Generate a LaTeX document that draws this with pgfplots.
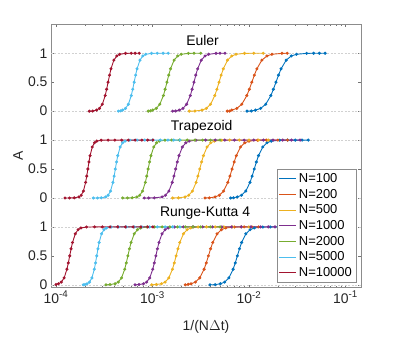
\documentclass[border=0pt]{standalone}
\usepackage{fontspec}
\setmainfont{Liberation Sans}
\usepackage{pgfplots}
\pgfplotsset{compat=1.18}
\usetikzlibrary{calc}

\definecolor{c1}{rgb}{0,0.447,0.741}
\definecolor{c2}{rgb}{0.850,0.325,0.098}
\definecolor{c3}{rgb}{0.929,0.694,0.125}
\definecolor{c4}{rgb}{0.494,0.184,0.556}
\definecolor{c5}{rgb}{0.466,0.674,0.188}
\definecolor{c6}{rgb}{0.301,0.745,0.933}
\definecolor{c7}{rgb}{0.635,0.078,0.184}

% u = log10 of 1/(N dt), A = amplitude (panels stacked: RK4 +0, Trapezoid +1.5, Euler +3)
\pgfplotsset{
  dat/.style={line width=0.9pt, mark=*, mark size=1.05pt},
  ref/.style={black!18, line width=0.4pt, dash pattern=on 2bp off 1.5bp, forget plot},
  table/lg/.style={x expr=10^\thisrow{u}, y=A, row sep=\\},
}

\begin{document}
\begin{tikzpicture}[font=\fontsize{14}{17}\selectfont]
\begin{axis}[
  scale only axis,
  width=310bp, height=263.4bp,
  xmode=log,
  xmin=8.87e-5, xmax=0.145,
  ymin=-0.05, ymax=4.5,
  xtick={1e-4,1e-3,1e-2,1e-1},
  xticklabels={10\textsuperscript{-4},10\textsuperscript{-3},10\textsuperscript{-2},10\textsuperscript{-1}},
  ytick={0,0.5,1,1.5,2,2.5,3,3.5,4},
  yticklabels={0,0.5,1,0,0.5,1,0,0.5,1},
  tick align=inside,
  major tick length=3.1bp,
  minor tick length=1.8bp,
  tick style={black!55, line width=0.4pt},
  axis line style={black!45, line width=0.5pt},
  tick label style={black!85, font=\fontsize{14}{17}\selectfont},
  xlabel={1/(N$\Delta$t)},
  ylabel={A},
  label style={black!85, font=\fontsize{14}{17}\selectfont},
  xlabel style={at={(axis description cs:0.5,-0.147)}, anchor=center},
  ylabel style={at={(axis description cs:-0.106,0.5)}, anchor=center},
  legend style={
    at={(axis description cs:0.984,0.0205)}, anchor=south east,
    draw=black!45, fill=white, font=\fontsize{13}{15}\selectfont,
    row sep=1.2bp, inner sep=2bp
  },
  legend cell align=left,
  legend image code/.code={\draw[#1, mark=none] (0bp,0bp) -- (17bp,0bp);},
]

\addplot[ref] coordinates {(8.87e-5,0) (0.145,0)};
\addplot[ref] coordinates {(8.87e-5,1) (0.145,1)};
\addplot[ref] coordinates {(8.87e-5,1.5) (0.145,1.5)};
\addplot[ref] coordinates {(8.87e-5,2.5) (0.145,2.5)};
\addplot[ref] coordinates {(8.87e-5,3) (0.145,3)};
\addplot[ref] coordinates {(8.87e-5,4) (0.145,4)};

% ---------- Euler ----------
\addplot[c1, dat] table[lg] {
u A\\
-2.02 3\\
-1.975 3.002\\
-1.932 3.018\\
-1.879 3.047\\
-1.826 3.119\\
-1.773 3.269\\
-1.7465 3.378\\
-1.72 3.5\\
-1.6935 3.622\\
-1.667 3.731\\
-1.614 3.881\\
-1.561 3.953\\
-1.508 3.982\\
-1.402 3.998\\
-1.33 4\\
-1.27 4\\
-1.21 4\\
};
\addlegendentry{N=100}
\addplot[c2, dat] table[lg] {
u A\\
-2.225 3\\
-2.2 3.001\\
-2.178 3.018\\
-2.126 3.047\\
-2.074 3.119\\
-2.022 3.269\\
-1.996 3.378\\
-1.97 3.5\\
-1.944 3.622\\
-1.918 3.731\\
-1.866 3.881\\
-1.814 3.953\\
-1.762 3.982\\
-1.658 3.998\\
-1.603 4\\
};
\addlegendentry{N=200}
\addplot[c3, dat] table[lg] {
u A\\
-2.619 3\\
-2.56 3.002\\
-2.486 3.018\\
-2.442 3.047\\
-2.398 3.119\\
-2.354 3.269\\
-2.332 3.378\\
-2.31 3.5\\
-2.288 3.622\\
-2.266 3.731\\
-2.222 3.881\\
-2.178 3.953\\
-2.134 3.982\\
-2.046 3.998\\
-1.95 4\\
-1.852 4\\
};
\addlegendentry{N=500}
\addplot[c4, dat] table[lg] {
u A\\
-2.791 3\\
-2.76 3.002\\
-2.722 3.018\\
-2.684 3.047\\
-2.646 3.119\\
-2.608 3.269\\
-2.589 3.378\\
-2.57 3.5\\
-2.551 3.622\\
-2.532 3.731\\
-2.494 3.881\\
-2.456 3.953\\
-2.418 3.982\\
-2.342 3.998\\
-2.30 4\\
-2.249 4\\
};
\addlegendentry{N=1000}
\addplot[c5, dat] table[lg] {
u A\\
-3.044 3\\
-3.02 3.005\\
-2.998 3.018\\
-2.961 3.047\\
-2.924 3.119\\
-2.887 3.269\\
-2.8685 3.378\\
-2.85 3.5\\
-2.8315 3.622\\
-2.813 3.731\\
-2.776 3.881\\
-2.739 3.953\\
-2.702 3.982\\
-2.628 3.998\\
-2.57 4\\
-2.5 4\\
};
\addlegendentry{N=2000}
\addplot[c6, dat] table[lg] {
u A\\
-3.354 3\\
-3.33 3.004\\
-3.31 3.018\\
-3.28 3.047\\
-3.25 3.119\\
-3.22 3.269\\
-3.205 3.378\\
-3.19 3.5\\
-3.175 3.622\\
-3.16 3.731\\
-3.13 3.881\\
-3.10 3.953\\
-3.07 3.982\\
-3.01 3.998\\
-2.95 4\\
-2.89 4\\
-2.836 4\\
};
\addlegendentry{N=5000}
\addplot[c7, dat] table[lg] {
u A\\
-3.655 3\\
-3.62 3.002\\
-3.58 3.018\\
-3.55 3.047\\
-3.52 3.119\\
-3.49 3.269\\
-3.475 3.378\\
-3.46 3.5\\
-3.445 3.622\\
-3.43 3.731\\
-3.40 3.881\\
-3.37 3.953\\
-3.34 3.982\\
-3.28 3.998\\
-3.22 4\\
-3.18 4\\
-3.137 4\\
};
\addlegendentry{N=10000}

% ---------- Trapezoid ----------
\addplot[c1, dat, forget plot] table[lg] {
u A\\
-2.19 1.5\\
-2.16 1.503\\
-2.121 1.518\\
-2.077 1.547\\
-2.033 1.619\\
-1.989 1.769\\
-1.967 1.878\\
-1.945 2.0\\
-1.923 2.122\\
-1.901 2.231\\
-1.857 2.381\\
-1.813 2.453\\
-1.769 2.482\\
-1.681 2.498\\
-1.6 2.5\\
-1.52 2.5\\
-1.45 2.5\\
-1.385 2.5\\
};
\addplot[c2, dat, forget plot] table[lg] {
u A\\
-2.456 1.5\\
-2.41 1.502\\
-2.351 1.518\\
-2.307 1.547\\
-2.263 1.619\\
-2.219 1.769\\
-2.197 1.878\\
-2.175 2.0\\
-2.153 2.122\\
-2.131 2.231\\
-2.087 2.381\\
-2.043 2.453\\
-1.999 2.482\\
-1.911 2.498\\
-1.82 2.5\\
-1.7 2.5\\
-1.6 2.5\\
};
\addplot[c3, dat, forget plot] table[lg] {
u A\\
-2.791 1.5\\
-2.73 1.502\\
-2.662 1.518\\
-2.624 1.547\\
-2.586 1.619\\
-2.548 1.769\\
-2.529 1.878\\
-2.51 2.0\\
-2.491 2.122\\
-2.472 2.231\\
-2.434 2.381\\
-2.396 2.453\\
-2.358 2.482\\
-2.282 2.498\\
-2.2 2.5\\
-2.1 2.5\\
-2.0 2.5\\
-1.9 2.5\\
-1.8 2.5\\
};
\addplot[c4, dat, forget plot] table[lg] {
u A\\
-3.085 1.5\\
-3.04 1.5\\
-2.98 1.502\\
-2.9 1.518\\
-2.865 1.547\\
-2.83 1.619\\
-2.795 1.769\\
-2.7775 1.878\\
-2.76 2.0\\
-2.7425 2.122\\
-2.725 2.231\\
-2.69 2.381\\
-2.655 2.453\\
-2.62 2.482\\
-2.55 2.498\\
-2.45 2.5\\
-2.35 2.5\\
-2.25 2.5\\
-2.15 2.5\\
-2.05 2.5\\
-1.95 2.5\\
-1.85 2.5\\
-1.75 2.5\\
-1.65 2.5\\
-1.56 2.5\\
-1.47 2.5\\
};
\addplot[c5, dat, forget plot] table[lg] {
u A\\
-3.309 1.5\\
-3.26 1.5\\
-3.21 1.503\\
-3.161 1.518\\
-3.132 1.547\\
-3.103 1.619\\
-3.074 1.769\\
-3.0595 1.878\\
-3.045 2.0\\
-3.0305 2.122\\
-3.016 2.231\\
-2.987 2.381\\
-2.958 2.453\\
-2.929 2.482\\
-2.871 2.498\\
-2.8 2.5\\
-2.72 2.5\\
-2.64 2.5\\
-2.56 2.5\\
-2.48 2.5\\
-2.4 2.5\\
-2.3 2.5\\
};
\addplot[c6, dat, forget plot] table[lg] {
u A\\
-3.613 1.5\\
-3.57 1.5\\
-3.53 1.503\\
-3.485 1.518\\
-3.46 1.547\\
-3.435 1.619\\
-3.41 1.769\\
-3.3975 1.878\\
-3.385 2.0\\
-3.3725 2.122\\
-3.36 2.231\\
-3.335 2.381\\
-3.31 2.453\\
-3.285 2.482\\
-3.235 2.498\\
-3.16 2.5\\
-3.08 2.5\\
-3.0 2.5\\
-2.92 2.5\\
-2.84 2.5\\
-2.78 2.5\\
-2.715 2.5\\
};
\addplot[c7, dat, forget plot] table[lg] {
u A\\
-3.907 1.5\\
-3.86 1.5\\
-3.81 1.503\\
-3.762 1.518\\
-3.739 1.547\\
-3.716 1.619\\
-3.693 1.769\\
-3.6815 1.878\\
-3.67 2.0\\
-3.6585 2.122\\
-3.647 2.231\\
-3.624 2.381\\
-3.601 2.453\\
-3.578 2.482\\
-3.532 2.498\\
-3.46 2.5\\
-3.39 2.5\\
-3.32 2.5\\
-3.25 2.5\\
-3.18 2.5\\
-3.11 2.5\\
-3.05 2.5\\
-2.995 2.5\\
};

% ---------- Runge-Kutta 4 ----------
\addplot[c1, dat, forget plot] table[lg] {
u A\\
-2.404 0\\
-2.35 0.003\\
-2.296 0.018\\
-2.252 0.047\\
-2.208 0.119\\
-2.164 0.269\\
-2.142 0.378\\
-2.12 0.5\\
-2.098 0.622\\
-2.076 0.731\\
-2.032 0.881\\
-1.988 0.953\\
-1.944 0.982\\
-1.856 0.998\\
-1.78 1\\
-1.70 1\\
};
\addplot[c2, dat, forget plot] table[lg] {
u A\\
-2.66 0\\
-2.63 0.008\\
-2.60 0.018\\
-2.555 0.047\\
-2.51 0.119\\
-2.465 0.269\\
-2.4425 0.378\\
-2.42 0.5\\
-2.3975 0.622\\
-2.375 0.731\\
-2.33 0.881\\
-2.285 0.953\\
-2.24 0.982\\
-2.15 0.998\\
-2.05 1\\
-1.97 1\\
-1.9 1\\
};
\addplot[c3, dat, forget plot] table[lg] {
u A\\
-3.008 0\\
-2.96 0.005\\
-2.907 0.018\\
-2.869 0.047\\
-2.831 0.119\\
-2.793 0.269\\
-2.774 0.378\\
-2.755 0.5\\
-2.736 0.622\\
-2.717 0.731\\
-2.679 0.881\\
-2.641 0.953\\
-2.603 0.982\\
-2.527 0.998\\
-2.44 1\\
-2.35 1\\
-2.26 1\\
-2.17 1\\
-2.08 1\\
-2.0 1\\
};
\addplot[c4, dat, forget plot] table[lg] {
u A\\
-3.181 0\\
-3.14 0.005\\
-3.093 0.018\\
-3.061 0.047\\
-3.029 0.119\\
-2.997 0.269\\
-2.981 0.378\\
-2.965 0.5\\
-2.949 0.622\\
-2.933 0.731\\
-2.901 0.881\\
-2.869 0.953\\
-2.837 0.982\\
-2.773 0.998\\
-2.68 1\\
-2.58 1\\
-2.48 1\\
-2.38 1\\
-2.28 1\\
-2.18 1\\
-2.08 1\\
-1.98 1\\
-1.88 1\\
-1.8 1\\
-1.73 1\\
};
\addplot[c5, dat, forget plot] table[lg] {
u A\\
-3.482 0\\
-3.44 0.005\\
-3.387 0.018\\
-3.354 0.047\\
-3.321 0.119\\
-3.288 0.269\\
-3.2715 0.378\\
-3.255 0.5\\
-3.2385 0.622\\
-3.222 0.731\\
-3.189 0.881\\
-3.156 0.953\\
-3.123 0.982\\
-3.057 0.998\\
-2.98 1\\
-2.9 1\\
-2.82 1\\
-2.74 1\\
-2.66 1\\
-2.58 1\\
-2.5 1\\
-2.4 1\\
-2.3 1\\
};
\addplot[c6, dat, forget plot] table[lg] {
u A\\
-3.717 0\\
-3.70 0.004\\
-3.678 0.018\\
-3.653 0.047\\
-3.628 0.119\\
-3.603 0.269\\
-3.5905 0.378\\
-3.578 0.5\\
-3.5655 0.622\\
-3.553 0.731\\
-3.528 0.881\\
-3.503 0.953\\
-3.478 0.982\\
-3.428 0.998\\
-3.35 1\\
-3.27 1\\
-3.19 1\\
-3.11 1\\
-3.03 1\\
-2.95 1\\
-2.87 1\\
-2.79 1\\
-2.715 1\\
};
\addplot[c7, dat, forget plot] table[lg] {
u A\\
-4.0 0.005\\
-3.974 0.018\\
-3.945 0.047\\
-3.916 0.119\\
-3.887 0.269\\
-3.8725 0.378\\
-3.858 0.5\\
-3.8435 0.622\\
-3.829 0.731\\
-3.8 0.881\\
-3.771 0.953\\
-3.742 0.982\\
-3.684 0.998\\
-3.6 1\\
-3.52 1\\
-3.44 1\\
-3.36 1\\
-3.28 1\\
-3.2 1\\
-3.12 1\\
-3.05 1\\
-2.995 1\\
};

\node[black] at (rel axis cs:0.489,0.938) {Euler};
\node[black] at (rel axis cs:0.486,0.611) {Trapezoid};
\node[black] at (rel axis cs:0.497,0.282) {Runge-Kutta 4};
\end{axis}
\path ($(current axis.south west)+(-51bp,-47.3bp)$) rectangle ($(current axis.north east)+(38bp,24.3bp)$);
\end{tikzpicture}
\end{document}
